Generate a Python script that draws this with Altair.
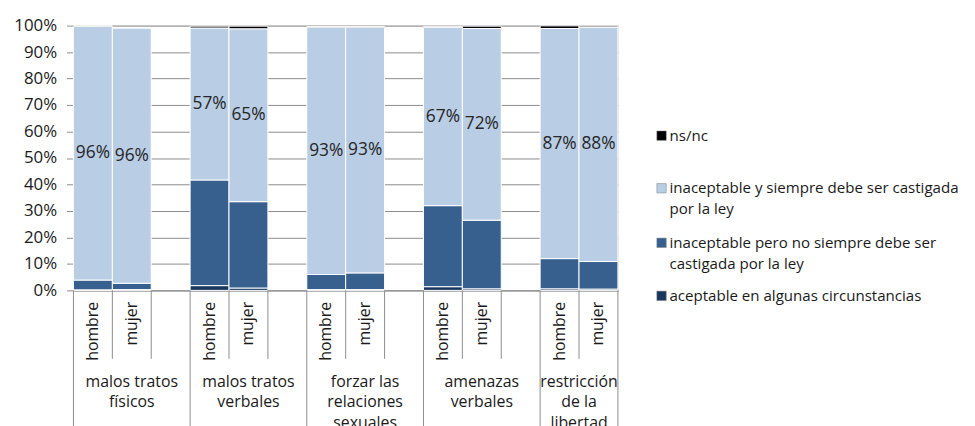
import altair as alt
import pandas as pd

# ---------------- data ----------------
groups = ["malos tratos físicos", "malos tratos verbales", "forzar las relaciones sexuales",
          "amenazas verbales", "restricción de la libertad"]
group_labels = ["malos tratos\nfísicos", "malos tratos\nverbales", "forzar las\nrelaciones\nsexuales",
                "amenazas\nverbales", "restricción\nde la\nlibertad"]
sexes = ["hombre", "mujer"]
categories = ["aceptable en algunas circunstancias",
              "inaceptable pero no siempre debe ser castigada por la ley",
              "inaceptable y siempre debe ser castigada por la ley",
              "ns/nc"]
legend_texts = ["aceptable en algunas circunstancias",
                "inaceptable pero no siempre debe ser\ncastigada por la ley",
                "inaceptable y siempre debe ser castigada\npor la ley",
                "ns/nc"]
colors = ["#17375E", "#37608F", "#B9CDE5", "#000000"]

# order: g1 hombre, g1 mujer, g2 hombre, g2 mujer, ...
aceptable = [0.2, 0.3, 1.8, 0.9, 0.3, 0.3, 1.4, 0.6, 0.6, 0.5]
no_siempre = [3.7, 2.4, 39.9, 32.6, 5.7, 6.3, 30.6, 25.9, 11.4, 10.4]
siempre = [95.8, 96.4, 57.4, 65.3, 93.4, 92.8, 67.3, 72.4, 86.9, 88.4]
nsnc = [0.3, 0.2, 0.7, 1.0, 0.2, 0.2, 0.4, 0.9, 1.0, 0.5]

series = [aceptable, no_siempre, siempre, nsnc]

# slots: hombre, mujer, gap per group (no gap after last group)
slots = []
for gi in range(len(groups)):
    slots += [f"{gi+1} hombre", f"{gi+1} mujer"]
    if gi < len(groups) - 1:
        slots.append(f"{gi+1} ")

rows = []
for gi in range(len(groups)):
    for si, sx in enumerate(sexes):
        k = gi * 2 + si
        for ci, cat in enumerate(categories):
            rows.append({"slot": f"{gi+1} {sx}", "cat": cat, "rank": ci, "value": series[ci][k]})
df = pd.DataFrame(rows)

GRAY = "#8c8c8c"
TXT = "#1a1a1a"
FONT = "Open Sans"
W, H = 549, 267

xscale = alt.Scale(domain=slots, paddingInner=0, paddingOuter=0)
yscale = alt.Scale(domain=[0, 100], nice=False)

xaxis = alt.Axis(title=None, labelAngle=270, labelExpr="slice(datum.value, 2)", ticks=False,
                 domainColor=GRAY, labelFontSize=16, labelPadding=11, labelColor=TXT,
                 labelAlign="right", labelBaseline="middle", grid=False, labelFont=FONT)
yaxis = alt.Axis(title=None, values=list(range(0, 101, 10)), labelExpr="datum.value + '%'",
                 grid=True, gridColor=GRAY, domainColor=GRAY, tickColor=GRAY, tickSize=7,
                 labelFontSize=17, labelColor=TXT, labelPadding=10, labelFont=FONT)

bars = alt.Chart(df).mark_bar(stroke="white", strokeWidth=1).encode(
    x=alt.X("slot:N", scale=xscale, axis=xaxis, title=None),
    y=alt.Y("value:Q", stack="zero", scale=yscale, axis=yaxis, title=None),
    color=alt.Color("cat:N", scale=alt.Scale(domain=categories, range=colors), legend=None),
    order=alt.Order("rank:Q"),
)

labels = alt.Chart(df).transform_stack(
    stack="value", groupby=["slot"], as_=["y0", "y1"], sort=[alt.SortField("rank")]
).transform_filter(
    alt.datum.cat == categories[2]
).transform_calculate(
    mid="(datum.y0 + datum.y1) / 2", txt="format(datum.value, '.0f') + '%'"
).mark_text(fontSize=17.5, color="#262626", font=FONT).encode(
    x=alt.X("slot:N", scale=xscale, axis=xaxis, title=None),
    y=alt.Y("mid:Q", scale=yscale, axis=yaxis, title=None),
    text="txt:N",
)

# separators of the two-level category axis
short_df = pd.DataFrame({"slot": [s for s in slots if not s.endswith("hombre")]})
long_df = pd.DataFrame({"slot": [s for s in slots if s.endswith("hombre")]})
end_df = pd.DataFrame({"slot": [slots[-1]]})

short_sep = alt.Chart(short_df).mark_rule(color=GRAY, strokeWidth=1).encode(
    x=alt.X("slot:N", scale=xscale, axis=xaxis, title=None, bandPosition=0),
    y=alt.value(H), y2=alt.value(H + 69))
long_sep = alt.Chart(long_df).mark_rule(color=GRAY, strokeWidth=1).encode(
    x=alt.X("slot:N", scale=xscale, axis=xaxis, title=None, bandPosition=0),
    y=alt.value(H), y2=alt.value(H + 160))
end_sep = alt.Chart(end_df).mark_rule(color=GRAY, strokeWidth=1).encode(
    x=alt.X("slot:N", scale=xscale, axis=xaxis, title=None, bandPosition=1),
    y=alt.value(H), y2=alt.value(H + 160))

grp_df = pd.DataFrame({"slot": [f"{gi+1} mujer" for gi in range(len(groups))],
                       "label": group_labels, "group": groups})
grp_text_style = dict(fontSize=16, color=TXT, font=FONT, lineBreak="\n", lineHeight=21,
                      baseline="alphabetic", align="center")
grp_a = alt.Chart(grp_df.iloc[:-1]).mark_text(**grp_text_style).encode(
    x=alt.X("slot:N", scale=xscale, axis=xaxis, title=None), y=alt.value(H + 97), text="label:N")
grp_b = alt.Chart(grp_df.iloc[-1:]).mark_text(**grp_text_style).encode(
    x=alt.X("slot:N", scale=xscale, axis=xaxis, title=None, bandPosition=0),
    y=alt.value(H + 97), text="label:N")

# legend (drawn manually, top entry = ns/nc)
leg_y = {3: 111, 2: 164, 1: 219, 0: 272.5}
leg_layers = []
for ci in range(len(categories)):
    ldf = pd.DataFrame({"cat": [categories[ci]]})
    leg_layers.append(alt.Chart(ldf).mark_square(size=90, color=colors[ci], opacity=1,
                                                 stroke="#7f7f7f", strokeWidth=0.5).encode(
        x=alt.value(593), y=alt.value(leg_y[ci])))
    leg_layers.append(alt.Chart(ldf).mark_text(align="left", baseline="alphabetic", fontSize=15.2,
                                               color=TXT, font=FONT, lineBreak="\n",
                                               lineHeight=21).encode(
        x=alt.value(601), y=alt.value(leg_y[ci] + 5), text=alt.value(legend_texts[ci])))

chart = alt.layer(bars, labels, short_sep, long_sep, end_sep, grp_a, grp_b, *leg_layers).properties(
    width=W, height=H,
    autosize=alt.AutoSizeParams(type="none"),
    padding={"left": 66, "top": 16, "right": 352, "bottom": 135},
).configure_view(stroke=None).configure(font=FONT)

chart.save("out.html", embed_options={"renderer": "svg", "actions": False})
